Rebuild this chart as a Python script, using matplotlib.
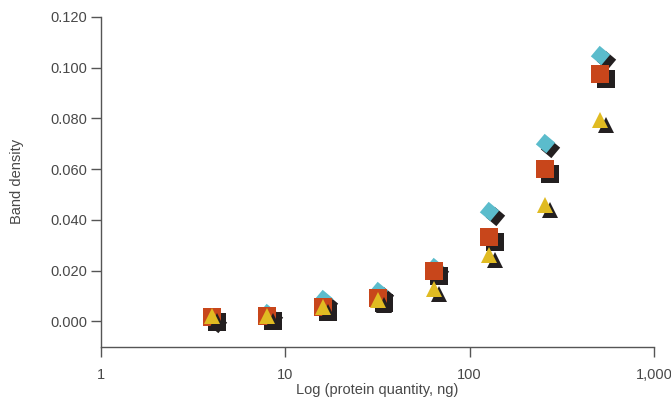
import matplotlib
matplotlib.use('Agg')
import matplotlib.pyplot as plt
import matplotlib.transforms as mtransforms

plt.rcParams['font.family'] = ['Liberation Sans', 'DejaVu Sans']

# protein quantity (ng), two-fold dilution series
quantity = [4, 8, 16, 32, 64, 128, 256, 512]
# band density
diamond_vals = [0.0015, 0.0032, 0.0087, 0.0118, 0.0214, 0.0435, 0.0701, 0.1050]
square_vals = [0.0018, 0.0020, 0.0055, 0.0094, 0.0200, 0.0331, 0.0602, 0.0976]
triangle_vals = [0.0020, 0.0020, 0.0056, 0.0086, 0.0128, 0.0262, 0.0460, 0.0793]

yticks = [0.0, 0.02, 0.04, 0.06, 0.08, 0.10, 0.12]
xticks = [1, 10, 100, 1000]
xticklabels = ['1', '10', '100', '1,000']

fig = plt.figure(figsize=(6.71, 4), dpi=100)
ax = fig.add_axes([0.1505, 0.133, 0.8242, 0.825])

# shadow offset, down-right
shadow = mtransforms.offset_copy(ax.transData, fig=fig, x=0.055, y=-0.05, units='inches')

series = [
    (diamond_vals, (4, 0, 5), 14.0, '#5bbccc'),
    (square_vals, 's', 12.6, '#c8461b'),
    (triangle_vals, '^', 11.8, '#e0bb22'),
]
z = 3
for vals, marker, ms, color in series:
    ax.plot(quantity, vals, linestyle='none', marker=marker, markersize=ms,
            color='#231f20', markeredgewidth=0, transform=shadow, zorder=z, clip_on=False)
    ax.plot(quantity, vals, linestyle='none', marker=marker, markersize=ms,
            color=color, markeredgewidth=0, zorder=z + 1, clip_on=False)
    z += 2

ax.set_xscale('log')
ax.set_xlim(1, 1000)
ax.set_ylim(-0.01, 0.12)
ax.set_xticks(xticks)
ax.set_xticklabels(xticklabels)
ax.minorticks_off()
ax.set_yticks(yticks)
ax.set_yticklabels(['%.3f' % v for v in yticks])

for s in ['top', 'right']:
    ax.spines[s].set_visible(False)
for s in ['left', 'bottom']:
    ax.spines[s].set_color('#555555')
    ax.spines[s].set_linewidth(1.0)

txt = '#484848'
ax.tick_params(axis='both', direction='out', length=7, width=1.0, color='#555555',
               labelsize=10.5, labelcolor=txt, pad=3)
ax.tick_params(axis='x', pad=8)

ax.set_xlabel('Log (protein quantity, ng)', fontsize=10.5, color=txt, labelpad=1)
ax.set_ylabel('Band density', fontsize=10.5, color=txt, labelpad=19)

fig.savefig('out.png', dpi=100)
